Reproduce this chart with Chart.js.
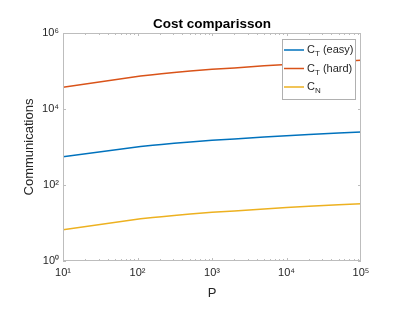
<!DOCTYPE html>
<html>
<head>
<meta charset="utf-8">
<script src="https://cdn.jsdelivr.net/npm/chart.js@4"></script>
<style>
  html, body { margin: 0; padding: 0; background: #fff; }
</style>
</head>
<body>
<canvas id="chart" width="394" height="311"></canvas>
<script>
// values (log-log)
const P = [10, 110, 160, 210, 310, 510, 1000, 2000, 5000, 10000, 20000, 50000, 100000];
const ctEasy = [550, 1038, 1109, 1169, 1250, 1361, 1500, 1626, 1824, 1972, 2123, 2328, 2472];
const ctHard = [37150, 74130, 79800, 84300, 90800, 99500, 110700, 120800, 136800, 148900, 161400, 178200, 190500];
const cN = [6.61, 12.9, 13.9, 14.6, 15.7, 17.2, 19.1, 20.7, 23.4, 25.4, 27.5, 30.3, 32.3];

const xTicks = [10, 100, 1000, 10000, 100000];
const yTicks = [1, 100, 10000, 1000000];

const titleText = 'Cost comparisson';
const seriesNames = [['C', 'T', ' (easy)'], ['C', 'T', ' (hard)'], ['C', 'N', '']];
const colors = ['#0072BD', '#D95319', '#EDB120'];

const FONT = "'Liberation Sans', Arial, Helvetica, sans-serif";
const AXIS_GRAY = '#bdbdbd';
const TEXT_GRAY = '#262626';

const SUP = '⁰¹²³⁴⁵⁶⁷⁸⁹';
function powLabel(v) {
    const e = Math.round(Math.log10(v));
    return '10' + String(e).split('').map(d => SUP[+d]).join('');
}

function pairs(ys) {
    return P.map((p, i) => ({x: p, y: ys[i]}));
}

// box, inward ticks, title over the axes and the legend with subscripts
const matlabAxes = {
    id: 'matlabAxes',
    afterDatasetsDraw(chart) {
        const {ctx, chartArea: a, scales} = chart;
        const xs = scales.x, ys = scales.y;
        ctx.save();
        ctx.strokeStyle = AXIS_GRAY;
        ctx.lineWidth = 1;
        ctx.strokeRect(a.left + 0.5, a.top + 0.5, a.right - a.left - 1, a.bottom - a.top - 1);

        ctx.beginPath();
        // x ticks, major and minor, top and bottom
        for (let d = 10; d < 100000; d *= 10) {
            for (let k = 1; k < 10; k++) {
                const px = Math.round(xs.getPixelForValue(d * k)) + 0.5;
                const len = k === 1 ? 3 : 2;
                ctx.moveTo(px, a.bottom); ctx.lineTo(px, a.bottom - len);
                ctx.moveTo(px, a.top); ctx.lineTo(px, a.top + len);
            }
        }
        yTicks.forEach(v => {
            const py = Math.round(ys.getPixelForValue(v)) + 0.5;
            ctx.moveTo(a.left, py); ctx.lineTo(a.left + 3, py);
            ctx.moveTo(a.right, py); ctx.lineTo(a.right - 3, py);
        });
        ctx.stroke();

        // title, centred on the plot box
        ctx.fillStyle = '#000';
        ctx.font = 'bold 13.5px ' + FONT;
        ctx.textAlign = 'center';
        ctx.textBaseline = 'middle';
        ctx.fillText(titleText, (a.left + a.right) / 2, 24);

        // legend
        const w = 73, h = 60;
        const lx = a.right - 6 - w, ly = a.top + 6;
        ctx.fillStyle = '#fff';
        ctx.fillRect(lx, ly, w, h);
        ctx.strokeStyle = '#b0b0b0';
        ctx.strokeRect(lx + 0.5, ly + 0.5, w, h);
        seriesNames.forEach((n, i) => {
            const ry = ly + 11 + i * 18.5;
            ctx.strokeStyle = colors[i];
            ctx.lineWidth = 1.5;
            ctx.beginPath();
            ctx.moveTo(lx + 2, ry); ctx.lineTo(lx + 22, ry);
            ctx.stroke();
            ctx.fillStyle = TEXT_GRAY;
            ctx.textBaseline = 'middle';
            ctx.textAlign = 'left';
            let tx = lx + 25;
            ctx.font = '11px ' + FONT;
            ctx.fillText(n[0], tx, ry);
            tx += ctx.measureText(n[0]).width;
            ctx.font = '8px ' + FONT;
            ctx.fillText(n[1], tx, ry + 4);
            tx += ctx.measureText(n[1]).width;
            ctx.font = '11px ' + FONT;
            ctx.fillText(n[2], tx, ry);
        });
        ctx.restore();
    }
};

new Chart(document.getElementById('chart'), {
    type: 'line',
    data: {
        datasets: [
            {label: 'C_T (easy)', data: pairs(ctEasy), borderColor: colors[0]},
            {label: 'C_T (hard)', data: pairs(ctHard), borderColor: colors[1]},
            {label: 'C_N', data: pairs(cN), borderColor: colors[2]}
        ]
    },
    options: {
        responsive: false,
        animation: false,
        layout: {padding: {left: 0, right: 33, top: 33, bottom: 0}},
        elements: {
            line: {borderWidth: 1.5, tension: 0, fill: false},
            point: {radius: 0}
        },
        plugins: {
            legend: {display: false},
            tooltip: {enabled: false},
            title: {display: false}
        },
        scales: {
            x: {
                type: 'logarithmic',
                min: 10,
                max: 100000,
                afterBuildTicks: s => { s.ticks = xTicks.map(v => ({value: v})); },
                afterFit: s => { s.height = 50; },
                grid: {display: false, drawTicks: false},
                border: {display: false},
                ticks: {
                    callback: v => powLabel(v),
                    autoSkip: false,
                    maxRotation: 0,
                    padding: 5,
                    color: TEXT_GRAY,
                    font: {family: FONT, size: 11}
                },
                title: {
                    display: true,
                    text: 'P',
                    color: TEXT_GRAY,
                    font: {family: FONT, size: 13},
                    padding: {top: 0, bottom: 10}
                }
            },
            y: {
                type: 'logarithmic',
                min: 1,
                max: 1000000,
                afterBuildTicks: s => { s.ticks = yTicks.map(v => ({value: v})); },
                afterFit: s => { s.width = 63; },
                grid: {display: false, drawTicks: false},
                border: {display: false},
                ticks: {
                    callback: v => powLabel(v),
                    autoSkip: false,
                    padding: 4,
                    color: TEXT_GRAY,
                    font: {family: FONT, size: 11}
                },
                title: {
                    display: true,
                    text: 'Communications',
                    color: TEXT_GRAY,
                    font: {family: FONT, size: 13},
                    padding: {top: 22, bottom: 0}
                }
            }
        }
    },
    plugins: [matlabAxes]
});
</script>
</body>
</html>
